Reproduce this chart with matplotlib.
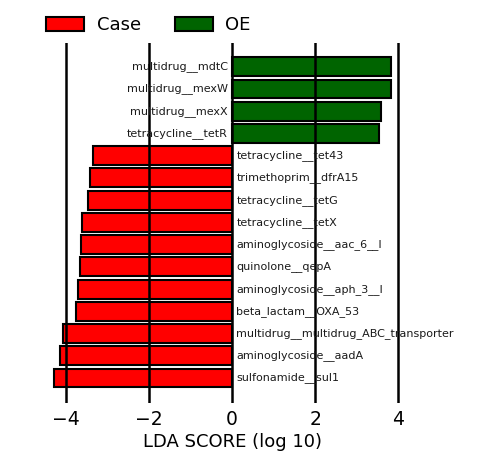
import matplotlib
matplotlib.use('Agg')
import matplotlib.pyplot as plt
from matplotlib.patches import Patch

# features from bottom to top
features = ['sulfonamide__sul1', 'aminoglycoside__aadA', 'multidrug__multidrug_ABC_transporter',
            'beta_lactam__OXA_53', 'aminoglycoside__aph_3__I', 'quinolone__qepA',
            'aminoglycoside__aac_6__I', 'tetracycline__tetX', 'tetracycline__tetG',
            'trimethoprim__dfrA15', 'tetracycline__tet43', 'tetracycline__tetR',
            'multidrug__mexX', 'multidrug__mexW', 'multidrug__mdtC']
scores = [-4.29, -4.14, -4.07, -3.76, -3.71, -3.66, -3.64, -3.61, -3.47,
          -3.42, -3.35, 3.52, 3.57, 3.81, 3.83]
groups = ['Case'] * 11 + ['OE'] * 4
group_colors = {'Case': '#ff0000', 'OE': '#006400'}

fig = plt.figure(figsize=(4.95, 4.65), dpi=100)
ax = fig.add_axes([0.091, 0.133, 0.756, 0.775])

ypos = list(range(len(features)))
colors = [group_colors[g] for g in groups]
ax.barh(ypos, scores, height=0.85, color=colors, edgecolor='black', linewidth=1.5, zorder=2)

# gridlines drawn over bars
for xv in [-4, -2, 0, 2, 4]:
    ax.axvline(xv, color='black', linewidth=1.8, zorder=3)

for y, name, s in zip(ypos, features, scores):
    if s > 0:
        ax.text(-0.1, y, name, ha='right', va='center', fontsize=8, color='#1a1a1a', zorder=4)
    else:
        ax.text(0.1, y, name, ha='left', va='center', fontsize=8, color='#1a1a1a', zorder=4)

ax.set_xlim(-4.5, 4.5)
ax.set_ylim(-1.13, 15.08)
ax.set_yticks([])
ax.set_xticks([-4, -2, 0, 2, 4])
ax.tick_params(axis='x', length=0, labelsize=13.5, pad=5)
ax.set_xlabel('LDA SCORE (log 10)', fontsize=13, labelpad=3)
for sp in ax.spines.values():
    sp.set_visible(False)

handles = [Patch(facecolor=group_colors[g], edgecolor='black', linewidth=1.5, label=g)
           for g in ['Case', 'OE']]
fig.legend(handles=handles, loc='upper left', bbox_to_anchor=(0.06, 1.0), ncol=2,
           frameon=False, fontsize=13, handlelength=2.1, handleheight=0.8,
           columnspacing=1.9, handletextpad=0.7)

fig.savefig('out.png', dpi=100)
